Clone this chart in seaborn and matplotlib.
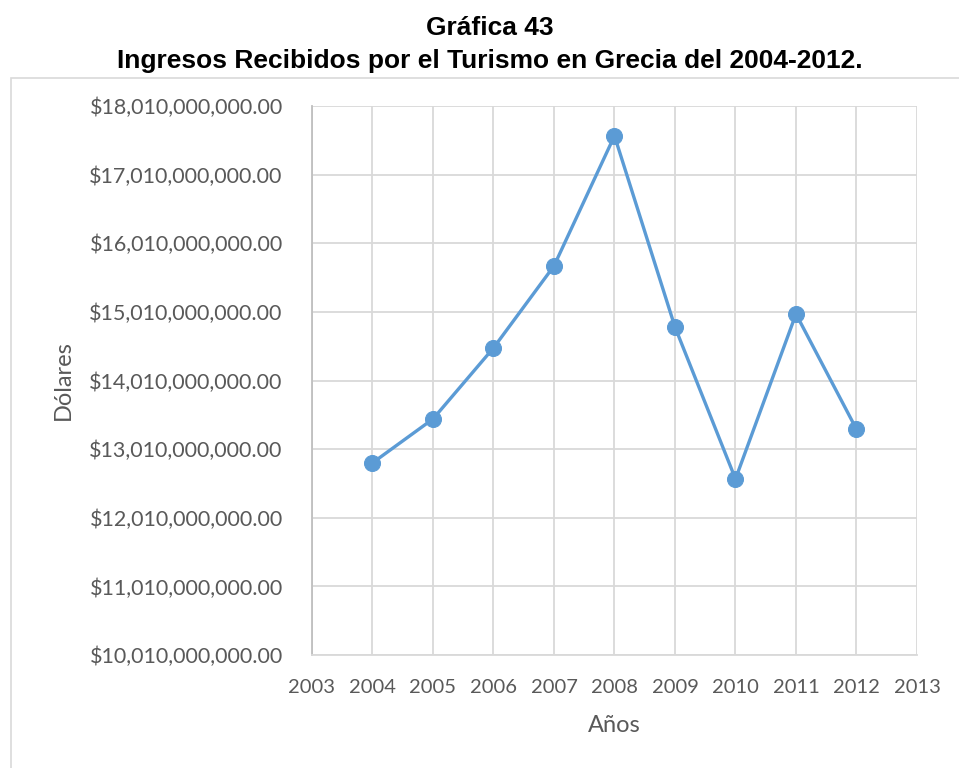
import matplotlib.pyplot as plt
import matplotlib.ticker as mticker
import numpy as np
import pandas as pd
import seaborn as sns

# datos
anios = [2004, 2005, 2006, 2007, 2008, 2009, 2010, 2011, 2012]
ingresos = [12.81e9, 13.45e9, 14.485e9, 15.68e9, 17.576e9, 14.79e9, 12.576e9, 14.98e9, 13.30e9]
y_ticks = [10.01e9 + i * 1e9 for i in range(9)]
x_ticks = list(range(2003, 2014))

df = pd.DataFrame({'Años': anios, 'Dólares': ingresos})

sns.set_theme(style='white')
plt.rcParams['font.family'] = ['Lato', 'DejaVu Sans']

fig = plt.figure(figsize=(9.59, 7.68), dpi=100)
ax = fig.add_axes([0.3253, 0.1471, 0.6309, 0.7148])

azul = '#5B9BD5'
sns.lineplot(data=df, x='Años', y='Dólares', ax=ax, color=azul, linewidth=2.4,
             marker='o', markersize=11.5, markeredgecolor=azul)

ax.set_xlim(2003, 2013)
ax.set_ylim(10.01e9, 18.01e9)
ax.set_xticks(x_ticks)
ax.set_yticks(y_ticks)
ax.yaxis.set_major_formatter(mticker.FuncFormatter(lambda v, p: '${:,.2f}'.format(v)))
ax.grid(True, color='#d9d9d9', linewidth=1.3)
ax.set_axisbelow(True)
for s in ['top', 'right']:
    ax.spines[s].set_visible(False)
ax.spines['left'].set_color('#bfbfbf')
ax.spines['bottom'].set_color('#d9d9d9')
ax.spines['left'].set_linewidth(1.3)
ax.spines['bottom'].set_linewidth(1.3)
ax.tick_params(axis='both', length=0, colors='#595959')
ax.tick_params(axis='x', pad=17, labelsize=14.5)
ax.tick_params(axis='y', pad=21, labelsize=15.5)

ax.set_xlabel('Años', fontsize=17, color='#595959', labelpad=14)
ax.set_ylabel('Dólares', fontsize=17, color='#595959', labelpad=11)

# marco del area del grafico
fig.add_artist(plt.Rectangle((11 / 959, -0.05), 1.2, 1 - 78 / 768 + 0.05,
                             transform=fig.transFigure, fill=False,
                             edgecolor='#d9d9d9', linewidth=1.2))

fig.text(0.511, 1 - 35 / 768, 'Gráfica 43', ha='center', va='baseline', color='black',
         fontsize=19, fontweight='bold', family=['Liberation Sans', 'DejaVu Sans'])
fig.text(0.511, 1 - 68 / 768, 'Ingresos Recibidos por el Turismo en Grecia del 2004-2012.',
         ha='center', va='baseline', color='black', fontsize=19, fontweight='bold',
         family=['Liberation Sans', 'DejaVu Sans'])

fig.savefig('out.png', dpi=100)
